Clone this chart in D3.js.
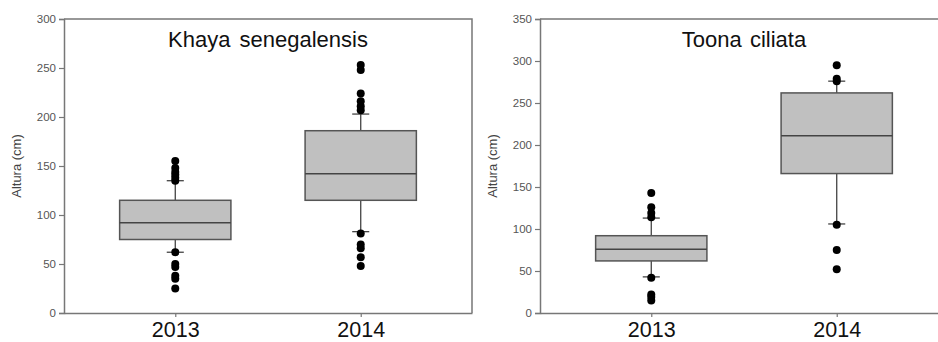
<!DOCTYPE html>
<html>
<head>
<meta charset="utf-8">
<script src="https://cdn.jsdelivr.net/npm/d3@7"></script>
<style>
  body { margin: 0; background: #fff; }
  svg { display: block; font-family: "Liberation Sans", Arial, sans-serif; }
</style>
</head>
<body>
<svg id="chart" width="938" height="342"></svg>
<script>
// data
var years = ["2013", "2014"];

// Khaya senegalensis
var khayaQ1 = [75, 115];
var khayaMedian = [92, 142];
var khayaQ3 = [115, 186];
var khayaLow = [62, 83];
var khayaHigh = [135, 203];
var khayaOutliers = [
    [155, 148, 144, 141, 138, 135, 62, 50, 47, 38, 35, 25],
    [253, 248, 224, 216, 211, 207, 81, 70, 66, 57, 48]
];

// Toona ciliata
var toonaQ1 = [62, 166];
var toonaMedian = [76, 211];
var toonaQ3 = [92, 262];
var toonaLow = [43, 106];
var toonaHigh = [113, 276];
var toonaOutliers = [
    [143, 126, 119, 114, 42, 22, 19, 15],
    [295, 279, 276, 105, 75, 52]
];

var yTicksKhaya = [0, 50, 100, 150, 200, 250, 300];
var yTicksToona = [0, 50, 100, 150, 200, 250, 300, 350];

var svg = d3.select("#chart");

function panel(opts) {
    var top = 19, bottom = 313;
    var x = d3.scaleLinear().domain([0.4, 2.6]).range([opts.left, opts.left + 408]);
    var y = d3.scaleLinear().domain([0, opts.max]).range([bottom, top]);
    var g = svg.append("g");

    // frame (top + right)
    g.append("path")
        .attr("d", `M${x.range()[0]},${top}H${x.range()[1]}V${bottom}`)
        .attr("fill", "none")
        .attr("stroke", "#777")
        .attr("stroke-width", 1.5);

    // y axis
    g.append("g")
        .attr("transform", `translate(${x.range()[0]},0)`)
        .call(d3.axisLeft(y).tickValues(opts.ticks).tickSize(5).tickPadding(3))
        .call(a => a.select(".domain").attr("stroke", "#777").attr("stroke-width", 1.5))
        .call(a => a.selectAll(".tick line").attr("stroke", "#777").attr("stroke-width", 1.2))
        .call(a => a.selectAll(".tick text")
            .attr("fill", "#555")
            .attr("font-size", "11.5px")
            .attr("font-family", "Liberation Sans, Arial, sans-serif"));

    // x axis
    g.append("g")
        .attr("transform", `translate(0,${bottom})`)
        .call(d3.axisBottom(x).tickValues([1, 2]).tickFormat((d, i) => years[i]).tickSize(4).tickSizeOuter(0))
        .call(a => a.select(".domain").attr("stroke", "#777").attr("stroke-width", 1.5))
        .call(a => a.selectAll(".tick line").attr("stroke", "#777").attr("stroke-width", 1.2))
        .call(a => a.selectAll(".tick text")
            .attr("y", 24)
            .attr("dy", 0)
            .attr("fill", "#111")
            .attr("font-size", "21.5px")
            .attr("font-family", "Liberation Sans, Arial, sans-serif"));

    // y label
    g.append("text")
        .attr("transform", `translate(${x.range()[0] - 46},166) rotate(-90)`)
        .attr("text-anchor", "middle")
        .attr("dominant-baseline", "middle")
        .attr("fill", "#444")
        .attr("font-size", "13px")
        .text("Altura (cm)");

    // title
    g.append("text")
        .attr("x", (x.range()[0] + x.range()[1]) / 2)
        .attr("y", 47)
        .attr("text-anchor", "middle")
        .attr("fill", "#111")
        .attr("font-size", "22px")
        .attr("word-spacing", opts.wordSpacing)
        .text(opts.title);

    var half = 0.3, cap = 0.046;
    years.forEach(function (yr, i) {
        var c = i + 1;
        // whiskers
        g.append("line")
            .attr("x1", x(c)).attr("x2", x(c))
            .attr("y1", y(opts.low[i])).attr("y2", y(opts.high[i]))
            .attr("stroke", "#444").attr("stroke-width", 1.3);
        [opts.low[i], opts.high[i]].forEach(function (v) {
            g.append("line")
                .attr("x1", x(c - cap)).attr("x2", x(c + cap))
                .attr("y1", y(v)).attr("y2", y(v))
                .attr("stroke", "#444").attr("stroke-width", 1.3);
        });
        // box
        g.append("rect")
            .attr("x", x(c - half))
            .attr("y", y(opts.q3[i]))
            .attr("width", x(c + half) - x(c - half))
            .attr("height", y(opts.q1[i]) - y(opts.q3[i]))
            .attr("fill", "#c0c0c0")
            .attr("stroke", "#555")
            .attr("stroke-width", 1.5);
        g.append("line")
            .attr("x1", x(c - half)).attr("x2", x(c + half))
            .attr("y1", y(opts.median[i])).attr("y2", y(opts.median[i]))
            .attr("stroke", "#444").attr("stroke-width", 1.5);
        // outliers
        g.selectAll(null)
            .data(opts.outliers[i])
            .join("circle")
            .attr("cx", x(c))
            .attr("cy", d => y(d))
            .attr("r", 4)
            .attr("fill", "#000");
    });
}

panel({
    left: 64, max: 300, ticks: yTicksKhaya, title: "Khaya senegalensis", wordSpacing: 3,
    q1: khayaQ1, median: khayaMedian, q3: khayaQ3, low: khayaLow, high: khayaHigh, outliers: khayaOutliers
});
panel({
    left: 540, max: 350, ticks: yTicksToona, title: "Toona ciliata", wordSpacing: 2,
    q1: toonaQ1, median: toonaMedian, q3: toonaQ3, low: toonaLow, high: toonaHigh, outliers: toonaOutliers
});
</script>
</body>
</html>
